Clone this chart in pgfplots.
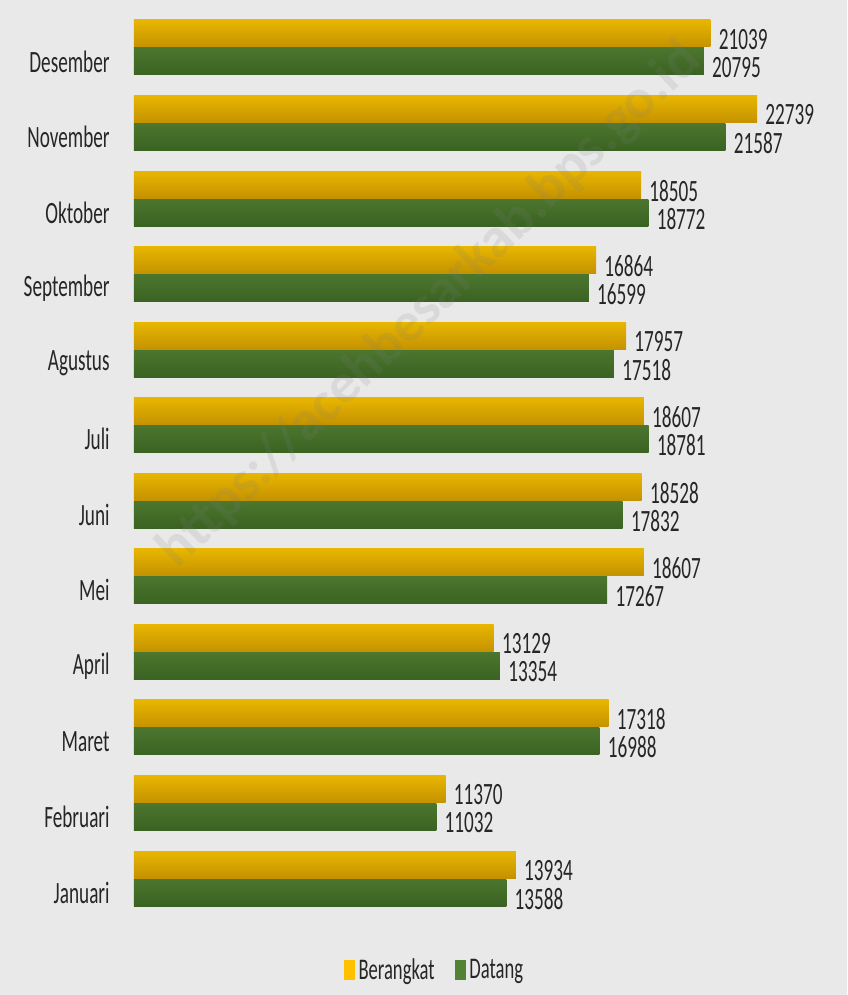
\documentclass[border=0pt]{standalone}
\usepackage{fontspec}
\setmainfont{Carlito}[FakeStretch=0.62]
\newfontfamily\wmfont{Carlito}
\usepackage{pgfplots}
\usepackage{pgfplotstable}
\pgfplotsset{compat=1.18}
\usetikzlibrary{backgrounds}

\definecolor{bgGray}{RGB}{233,233,233}
\definecolor{txt}{RGB}{38,38,38}
\definecolor{berTop}{RGB}{232,182,0}
\definecolor{berMid}{RGB}{255,216,10}
\definecolor{berBot}{RGB}{196,146,0}
\definecolor{datTop}{RGB}{76,118,46}
\definecolor{datMid}{RGB}{98,150,64}
\definecolor{datBot}{RGB}{58,98,34}
\definecolor{berLeg}{RGB}{255,192,0}
\definecolor{datLeg}{RGB}{84,130,53}

% month index, Berangkat, Datang
\pgfplotstableread{
m ber dat
0 13934 13588
1 11370 11032
2 17318 16988
3 13129 13354
4 18607 17267
5 18528 17832
6 18607 18781
7 17957 17518
8 16864 16599
9 18505 18772
10 22739 21587
11 21039 20795
}\data

\begin{document}
\begin{tikzpicture}
\begin{axis}[
    xbar,
    scale only axis,
    width=342.5pt, height=453.3pt,
    xmin=0, xmax=25000,
    ymin=-0.308, ymax=11.692,
    axis line style={draw=none},
    xtick=\empty,
    ytick={0,...,11},
    yticklabels={Januari,Februari,Maret,April,Mei,Juni,Juli,Agustus,September,Oktober,November,Desember},
    ytick style={draw=none},
    major tick length=0pt,
    yticklabel style={anchor=east, inner sep=0pt, xshift=-12pt, text=txt,
        font=\fontsize{15.5}{18}\selectfont},
    bar width=13.5pt,
    point meta=explicit symbolic,
    nodes near coords,
    nodes near coords style={anchor=west, inner sep=0pt, xshift=4pt, yshift=-3pt,
        text=txt, font=\fontsize{15.5}{18}\selectfont},
    legend columns=2,
    legend style={draw=none, fill=none, at={(axis description cs:0.44,-0.06)},
        anchor=center, font=\fontsize{15}{17}\selectfont, text=txt,
        /tikz/every even column/.append style={column sep=8pt}},
]
\addlegendimage{legend image code/.code={\fill[berLeg] (0pt,-4.75pt) rectangle (5pt,4.75pt);}}
\addlegendentry{Berangkat}
\addlegendimage{legend image code/.code={\fill[datLeg] (0pt,-4.75pt) rectangle (5pt,4.75pt);}}
\addlegendentry{Datang}

% one plot per month so each bar gets its own shading
\pgfplotsinvokeforeach{0,...,11}{
\addplot[draw=none, top color=berTop, middle color=berMid, bottom color=berBot,
    bar shift=14pt, forget plot, restrict y to domain=#1:#1]
    table[x=ber, y=m, meta=ber] {\data};
\addplot[draw=none, top color=datTop, middle color=datMid, bottom color=datBot,
    bar shift=0pt, forget plot, restrict y to domain=#1:#1]
    table[x=dat, y=m, meta=dat] {\data};
}
\end{axis}

\coordinate (SW) at ([xshift=-67pt,yshift=-39.6pt]current axis.south west);
\coordinate (NE) at ([xshift=14pt,yshift=4.6pt]current axis.north east);
\node[rotate=44, text=gray, opacity=0.15, font=\wmfont\bfseries\fontsize{28}{32}\selectfont]
    at ([xshift=148pt,yshift=305pt]current axis.south west) {https://acehbesarkab.bps.go.id};
\begin{pgfonlayer}{background}
\fill[bgGray] (SW) rectangle (NE);
\end{pgfonlayer}
\pgfresetboundingbox
\path (SW) rectangle (NE);
\end{tikzpicture}
\end{document}
